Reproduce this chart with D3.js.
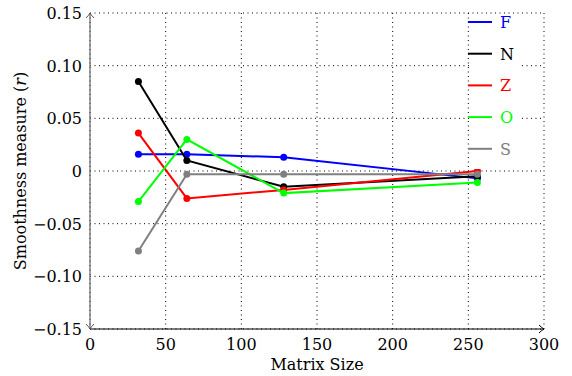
<!DOCTYPE html>
<html>
<head>
<meta charset="utf-8">
<script src="https://cdn.jsdelivr.net/npm/d3@7"></script>
<style>
body { margin: 0; background: #fff; }
</style>
</head>
<body>
<svg id="graph"></svg>
<script>
const graph = d3.select('#graph')

// dimensions
const width = 572;
const height = 376;
const margin = {top: 13, bottom: 47, left: 90, right: 28}
const font = "'DejaVu Serif', 'Liberation Serif', serif"

graph.attr('width', width).attr('height', height)
    .attr('font-family', font)

// data
const sizes = [32, 64, 128, 256];
const names = ['F', 'N', 'Z', 'O', 'S'];
const colors = ['#0000ff', '#000000', '#ff0000', '#00ff00', '#808080'];
const valF = [0.016, 0.016, 0.013, -0.007];
const valN = [0.085, 0.010, -0.015, -0.005];
const valZ = [0.036, -0.026, -0.018, 0.000];
const valO = [-0.029, 0.030, -0.021, -0.011];
const valS = [-0.076, -0.003, -0.003, -0.003];
const xTicks = [0, 50, 100, 150, 200, 250, 300];
const yTicks = [-0.15, -0.10, -0.05, 0, 0.05, 0.10, 0.15];

const series = [valF, valN, valZ, valO, valS].map((vals, i) => ({
    name: names[i], color: colors[i],
    values: vals.map((v, j) => ({x: sizes[j], y: v}))
}))

// scales
const x_scale = d3.scaleLinear().domain([0, 300]).range([margin.left, width - margin.right])
const y_scale = d3.scaleLinear().domain([-0.15, 0.15]).range([height - margin.bottom, margin.top])

const fmt = d => d === 0 ? '0' : d.toFixed(2).replace('-', '\u2212')

// grid
graph.append('g').selectAll('line.vg')
    .data(xTicks).enter().append('line')
    .attr('x1', d => x_scale(d)).attr('x2', d => x_scale(d))
    .attr('y1', y_scale(-0.15)).attr('y2', y_scale(0.15))
    .attr('stroke', '#000').attr('stroke-width', 1)
    .attr('stroke-dasharray', '1,3.5')

graph.append('g').selectAll('line.hg')
    .data(yTicks).enter().append('line')
    .attr('x1', x_scale(0)).attr('x2', x_scale(300))
    .attr('y1', d => y_scale(d)).attr('y2', d => y_scale(d))
    .attr('stroke', '#000').attr('stroke-width', 1)
    .attr('stroke-dasharray', '1,3.5')

// axes lines with arrows
const x0 = x_scale(0), yb = y_scale(-0.15), yt = y_scale(0.15), xr = x_scale(300)
graph.append('line')
    .attr('x1', x0).attr('x2', xr).attr('y1', yb).attr('y2', yb)
    .attr('stroke', '#000').attr('stroke-width', 1.2)
graph.append('path')
    .attr('d', `M${xr-5},${yb-4} Q${xr-2},${yb-1} ${xr},${yb} Q${xr-2},${yb+1} ${xr-5},${yb+4}`)
    .attr('fill', 'none').attr('stroke', '#000').attr('stroke-width', 1)
graph.append('line')
    .attr('x1', x0).attr('x2', x0).attr('y1', yb).attr('y2', yt)
    .attr('stroke', '#666').attr('stroke-width', 1.2)
graph.append('path')
    .attr('d', `M${x0-4},${yt+5} Q${x0-1},${yt+2} ${x0},${yt} Q${x0+1},${yt+2} ${x0+4},${yt+5}`)
    .attr('fill', 'none').attr('stroke', '#555').attr('stroke-width', 1)
graph.append('path')
    .attr('d', `M${x0-4},${yb-5} Q${x0-1},${yb-2} ${x0},${yb} Q${x0+1},${yb-2} ${x0+4},${yb-5}`)
    .attr('fill', 'none').attr('stroke', '#555').attr('stroke-width', 1)

// tick labels
graph.append('g').selectAll('text')
    .data(xTicks).enter().append('text')
    .attr('x', d => x_scale(d)).attr('y', 350)
    .attr('text-anchor', 'middle').attr('font-size', 16)
    .text(d => d)

graph.append('g').selectAll('text')
    .data(yTicks).enter().append('text')
    .attr('x', 82).attr('y', d => y_scale(d) + 6)
    .attr('text-anchor', 'end').attr('font-size', 16)
    .text(fmt)

// axis titles
graph.append('text')
    .attr('x', (x_scale(0) + x_scale(300)) / 2).attr('y', 370)
    .attr('text-anchor', 'middle').attr('font-size', 16)
    .text('Matrix Size')

const yt_lbl = graph.append('text')
    .attr('transform', `translate(26,${(yt + yb) / 2}) rotate(-90)`)
    .attr('text-anchor', 'middle').attr('font-size', 16)
yt_lbl.append('tspan').text('Smoothness measure (')
yt_lbl.append('tspan').attr('font-style', 'italic').text('r')
yt_lbl.append('tspan').text(')')

// lines and points
const line = d3.line().x(d => x_scale(d.x)).y(d => y_scale(d.y))

const groups = graph.selectAll('g.series')
    .data(series).enter().append('g').attr('class', 'series')

groups.append('path')
    .attr('d', d => line(d.values))
    .attr('fill', 'none')
    .attr('stroke', d => d.color)
    .attr('stroke-width', 2)

groups.selectAll('circle')
    .data(d => d.values.map(v => ({...v, color: d.color})))
    .enter().append('circle')
    .attr('cx', d => x_scale(d.x)).attr('cy', d => y_scale(d.y))
    .attr('r', 3.5).attr('fill', d => d.color)

// legend
const legend = graph.append('g')
legend.append('rect')
    .attr('x', 470).attr('y', 14).attr('width', 52).attr('height', 155)
    .attr('fill', '#fff')

const entries = legend.selectAll('g.entry')
    .data(series).enter().append('g')
    .attr('transform', (d, i) => `translate(0,${22 + i * 31.7})`)

entries.append('line')
    .attr('x1', 468).attr('x2', 492).attr('y1', 0).attr('y2', 0)
    .attr('stroke', d => d.color).attr('stroke-width', 2)

entries.append('text')
    .attr('x', 500).attr('y', 6)
    .attr('font-size', 16)
    .attr('fill', d => d.color)
    .text(d => d.name)
</script>
</body>
</html>
